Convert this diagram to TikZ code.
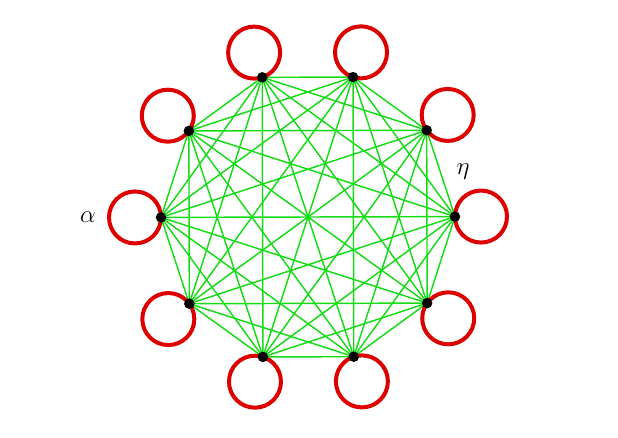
\documentclass[tikz,border=0pt]{standalone}
\usepackage{tikz}
\usetikzlibrary{calc}
\definecolor{edgegreen}{RGB}{20,220,20}
\definecolor{looped}{RGB}{220,0,0}
\tikzset{
  edgeline/.style={draw=edgegreen, line width=1.45pt},
  loopline/.style={draw=looped, line width=4pt},
  vdot/.style={circle, fill=black, inner sep=0pt, minimum size=10.5pt},
  lab/.style={font=\fontsize{23}{28}\selectfont, inner sep=0pt}
}
\begin{document}
\begin{tikzpicture}[x=1pt,y=1pt]
\useasboundingbox (0,0) rectangle (618,-437);
\coordinate (c) at (308,-217);
\foreach \i in {0,...,9} {
  \coordinate (v\i) at ($(c)+({36*\i+0.15}:147)$);
  \coordinate (l\i) at ($(c)+({36*\i+0.15}:173)$);
}
\foreach \i in {0,...,9} {
  \foreach \j in {0,...,9} {
    \ifnum\i<\j
      \draw[edgeline] (v\i) -- (v\j);
    \fi
  }
}
\foreach \i in {0,...,9} {
  \draw[loopline] (l\i) circle (26);
}
\foreach \i in {0,...,9} {
  \node[vdot] (d\i) at (v\i) {};
}
\node[lab] (alpha) at (88,-217) {$\alpha$};
\node[lab] (eta) at (463,-172) {$\eta$};
\end{tikzpicture}
\end{document}
